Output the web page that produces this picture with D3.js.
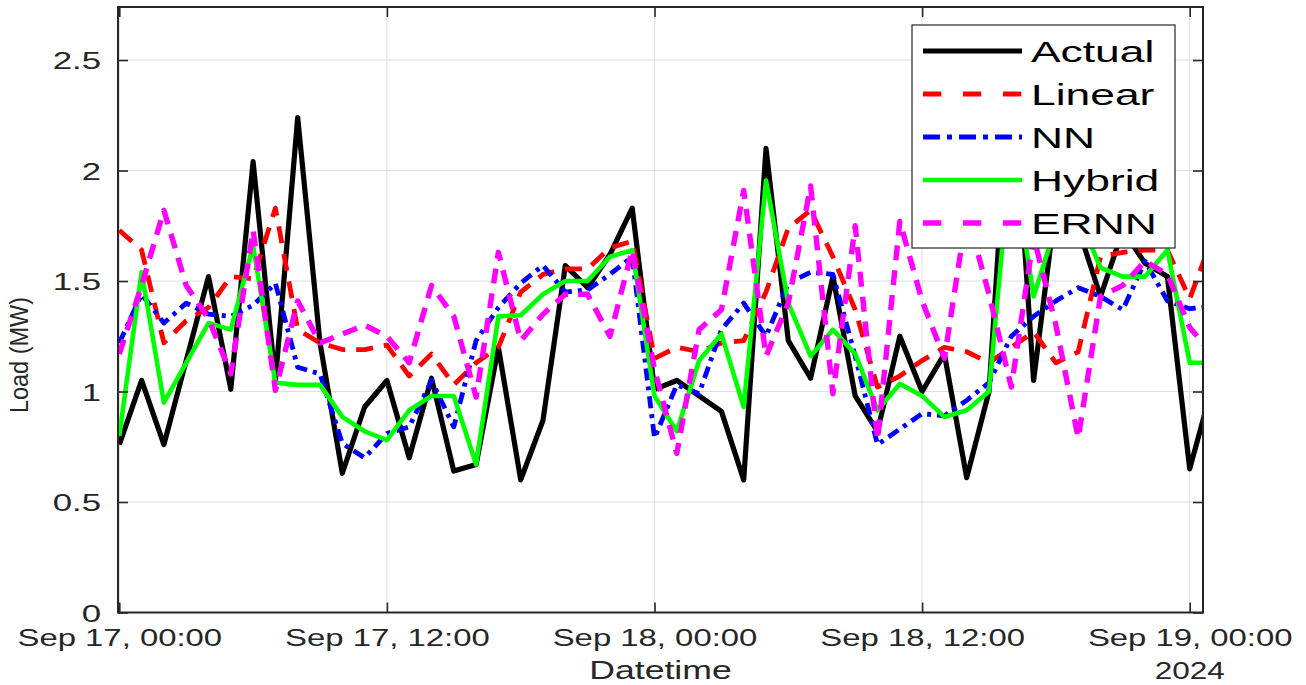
<!DOCTYPE html>
<html><head><meta charset="utf-8">
<script src="https://cdn.jsdelivr.net/npm/d3@7"></script>
<style>
html,body{margin:0;padding:0;background:#fff;}
svg{display:block;font-family:"Liberation Sans",Arial,Helvetica,sans-serif;}
</style></head>
<body><svg id="c" width="1306" height="685"></svg>
<script>
// ---- data (hourly, starting Sep 17 2024 00:00) ----
const startTime = new Date(2024, 8, 17, 0, 0, 0);
const actual = [0.76,1.05,0.76,1.14,1.52,1.01,2.04,1.05,2.24,1.22, 0.63,0.93,1.05,0.70,1.06,0.64,0.67,1.20,0.60,0.87, 1.57,1.47,1.62,1.83,1.01,1.05,0.98,0.91,0.60,2.10, 1.23,1.06,1.52,0.98,0.82,1.25,1.00,1.17,0.61,1.00, 2.55,1.05,1.85,1.74,1.43,1.73,1.58,1.52,0.65,1.02];
const linear = [1.73,1.64,1.22,1.32,1.38,1.52,1.51,1.83,1.28,1.22, 1.19,1.19,1.21,1.07,1.17,1.03,1.13,1.20,1.45,1.53, 1.555,1.555,1.65,1.68,1.15,1.20,1.18,1.22,1.23,1.45, 1.74,1.82,1.61,1.37,1.02,1.07,1.14,1.20,1.18,1.13, 1.20,1.27,1.13,1.18,1.61,1.63,1.64,1.64,1.42,1.69];
const nn = [1.22,1.44,1.31,1.40,1.35,1.34,1.39,1.49,1.11,1.08, 0.765,0.70,0.81,0.84,1.05,0.84,1.23,1.38,1.49,1.57, 1.45,1.46,1.53,1.61,0.79,1.03,0.99,1.28,1.40,1.25, 1.49,1.54,1.53,1.16,0.76,0.83,0.90,0.89,0.96,1.04, 1.25,1.34,1.41,1.47,1.43,1.37,1.59,1.41,1.375,1.385];
const hybrid = [0.80,1.54,0.95,1.13,1.31,1.28,1.66,1.04,1.03,1.03, 0.885,0.82,0.78,0.915,0.98,0.98,0.67,1.34,1.345,1.44, 1.50,1.50,1.61,1.64,0.98,0.82,1.14,1.26,0.93,1.955, 1.40,1.16,1.28,1.17,0.915,1.035,0.98,0.885,0.915,1.00, 2.10,1.43,1.75,1.80,1.56,1.52,1.52,1.64,1.13,1.13];
const ernn = [1.17,1.48,1.82,1.48,1.33,1.08,1.73,1.005,1.41,1.22, 1.26,1.30,1.25,1.13,1.48,1.34,0.975,1.63,1.23,1.35, 1.44,1.44,1.25,1.64,1.10,0.72,1.28,1.37,1.91,1.16, 1.40,1.93,0.99,1.75,0.78,1.77,1.41,1.15,1.81,1.44, 1.02,1.70,1.30,0.79,1.43,1.48,1.59,1.53,1.29,1.17];
const seriesNames = ["Actual","Linear","NN","Hybrid","ERNN"];
const yTickValues = [0,0.5,1,1.5,2,2.5];
const yTickLabels = ["0","0.5","1","1.5","2","2.5"];
const xTickLabels = ["Sep 17, 00:00","Sep 17, 12:00","Sep 18, 00:00","Sep 18, 12:00","Sep 19, 00:00"];
const xTickHours = [0,12,24,36,48];
const xLabel = "Datetime", yLabel = "Load (MW)", yearLabel = "2024";

// ---- layout ----
const L = 118, R = 1203, T = 7, B = 612.5;
const svg = d3.select("#c");
const x = d3.scaleTime()
  .domain([new Date(2024, 8, 16, 23, 56, 30), new Date(2024, 8, 19, 0, 35, 45)])
  .range([L, R]);
const y = d3.scaleLinear().domain([0, 2.74]).range([B, T]);
const times = actual.map((_, i) => d3.timeHour.offset(startTime, i));
const xTicks = xTickHours.map(h => d3.timeHour.offset(startTime, h));

// grid
const grid = svg.append("g").attr("stroke", "#dedede").attr("stroke-width", 1);
xTicks.forEach(t => grid.append("line").attr("x1", x(t)).attr("x2", x(t)).attr("y1", T).attr("y2", B));
yTickValues.forEach(v => grid.append("line").attr("x1", L).attr("x2", R).attr("y1", y(v)).attr("y2", y(v)));

// lines
svg.append("clipPath").attr("id", "clip").append("rect")
  .attr("x", L).attr("y", T).attr("width", R - L).attr("height", B - T);
const styles = [
  {data: actual, color: "#000000", w: 5.2, dash: null},
  {data: linear, color: "#ff0000", w: 4.8, dash: "17,11"},
  {data: nn, color: "#0000ff", w: 4.8, dash: "12,6,4,6"},
  {data: hybrid, color: "#00ff00", w: 4.6, dash: null},
  {data: ernn, color: "#ff00ff", w: 5.4, dash: "15,10"}
];
const lineGen = d3.line().x((d, i) => x(times[i])).y(d => y(d));
const lg = svg.append("g").attr("clip-path", "url(#clip)");
styles.forEach(s => {
  lg.append("path").datum(s.data).attr("d", lineGen)
    .attr("fill", "none").attr("stroke", s.color).attr("stroke-width", s.w)
    .attr("stroke-linejoin", "round")
    .attr("stroke-dasharray", s.dash);
});

// axes
const axCol = "#262626";
const xa = svg.append("g").attr("transform", `translate(0,${B})`)
  .call(d3.axisBottom(x).tickValues(xTicks).tickSize(-10).tickSizeOuter(0).tickFormat((d, i) => xTickLabels[i]));
const xt = svg.append("g").attr("transform", `translate(0,${T})`)
  .call(d3.axisTop(x).tickValues(xTicks).tickSize(-10).tickSizeOuter(0).tickFormat(""));
const ya = svg.append("g").attr("transform", `translate(${L},0)`)
  .call(d3.axisLeft(y).tickValues(yTickValues).tickSize(-10).tickSizeOuter(0).tickFormat((d, i) => yTickLabels[i]));
const yr = svg.append("g").attr("transform", `translate(${R},0)`)
  .call(d3.axisRight(y).tickValues(yTickValues).tickSize(-10).tickSizeOuter(0).tickFormat(""));
[xa, xt, ya, yr].forEach(g => {
  g.select(".domain").remove();
  g.selectAll(".tick line").attr("stroke", axCol).attr("stroke-width", 1.6);
});
xa.selectAll(".tick text")
  .attr("y", null).attr("dy", null)
  .attr("transform", "translate(0,33.5) scale(1.37,1)")
  .attr("font-size", 24).attr("fill", axCol).attr("font-family", "Liberation Sans, Arial, sans-serif");
ya.selectAll(".tick text")
  .attr("x", null).attr("dy", "0.36em")
  .attr("transform", "translate(-17,0) scale(1.45,1)")
  .attr("text-anchor", "end")
  .attr("font-size", 24).attr("fill", axCol).attr("font-family", "Liberation Sans, Arial, sans-serif");

// box
svg.append("rect").attr("x", L).attr("y", T).attr("width", R - L).attr("height", B - T)
  .attr("fill", "none").attr("stroke", axCol).attr("stroke-width", 2);

// labels
svg.append("text").attr("transform", `translate(${(L + R) / 2},679) scale(1.37,1)`)
  .attr("text-anchor", "middle").attr("font-size", 26).attr("fill", axCol).text(xLabel);
svg.append("text").attr("transform", `translate(${x(xTicks[4])},679) scale(1.37,1)`)
  .attr("text-anchor", "middle").attr("font-size", 23).attr("fill", axCol).text(yearLabel);
svg.append("text").attr("transform", "translate(28,355) scale(1.12,1) rotate(-90)")
  .attr("text-anchor", "middle").attr("font-size", 23.5).attr("fill", axCol).text(yLabel);

// legend
const leg = svg.append("g");
leg.append("rect").attr("x", 912).attr("y", 25).attr("width", 263).attr("height", 223)
  .attr("fill", "#fff").attr("stroke", axCol).attr("stroke-width", 1.2);
const legDash = [null, "18.3,21.7", "17,7,5,7", null, "18.3,21.7"];
seriesNames.forEach((n, i) => {
  const cy = 51 + i * 43;
  leg.append("line").attr("x1", 923).attr("x2", 1022).attr("y1", cy).attr("y2", cy)
    .attr("stroke", styles[i].color).attr("stroke-width", styles[i].w)
    .attr("stroke-dasharray", legDash[i]);
  leg.append("text").attr("transform", `translate(1031,${cy}) scale(1.48,1)`)
    .attr("dy", "0.36em").attr("font-size", 30).attr("fill", "#000").text(n);
});
</script></body></html>
